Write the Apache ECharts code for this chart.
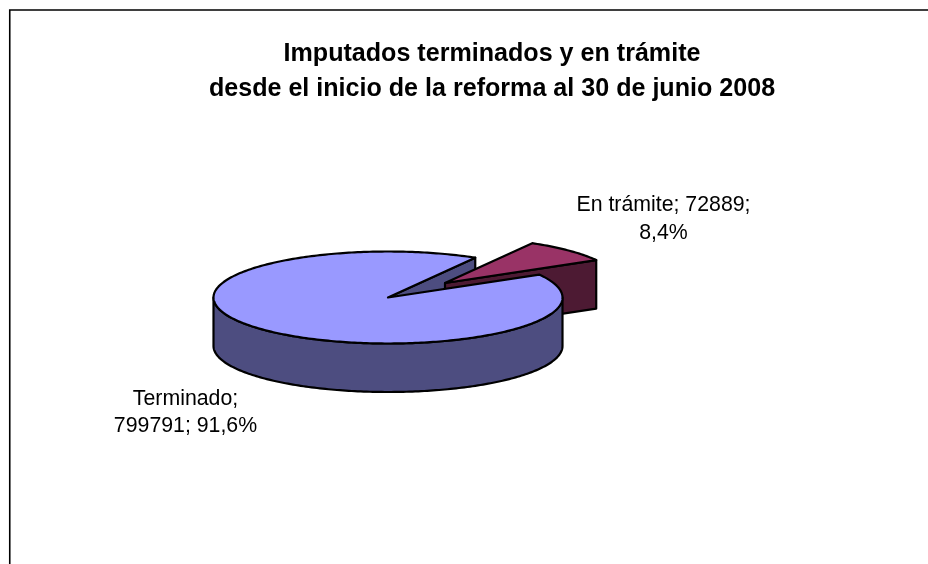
<!DOCTYPE html>
<html>
<head>
<meta charset="utf-8">
<style>html,body{margin:0;padding:0;background:#fff}#c{width:928px;height:564px}</style>
<script src="https://cdn.jsdelivr.net/npm/echarts@6/dist/echarts.min.js"></script>
</head>
<body>
<div id="c"></div>
<script>
const titleLines = ['Imputados terminados y en trámite', 'desde el inicio de la reforma al 30 de junio 2008'];
const categories = ['Terminado', 'En trámite'];
const values = [799791, 72889];
const percentLabels = ['91,6%', '8,4%'];

const FONT = '"Liberation Sans", Arial, sans-serif';
const CX = 388, CY = 297.5, RX = 174.5, RY = 46, DEPTH = 48.5;
const START = 60; // ellipse parameter where the first (exploded) slice begins
const EXPLODE = [57, -14.5];
const STROKE = {stroke: '#000', lineWidth: 2.2, lineJoin: 'round'};
const total = values.reduce((a, b) => a + b, 0);
const sweep = values[1] / total * 360;

function pt(cx, cy, deg, dy) {
  const r = deg * Math.PI / 180;
  return [cx + RX * Math.cos(r), cy - RY * Math.sin(r) + (dy || 0)];
}
function arc(cx, cy, from, to, dy) {
  const n = Math.ceil(Math.abs(to - from));
  const out = [];
  for (let i = 0; i <= n; i++) out.push(pt(cx, cy, from + (to - from) * i / n, dy));
  return out;
}
function poly(points, fill, z2) {
  return {type: 'polygon', z2, shape: {points}, style: Object.assign({fill}, STROKE)};
}
function text(x, y, str) {
  return {type: 'text', z2: 20, x, y, style: {text: str, font: '21.3px ' + FONT, fill: '#000',
    align: 'center', verticalAlign: 'middle', lineHeight: 27.5}};
}

function renderItem(params) {
  const i = params.dataIndex;
  const a1 = START - sweep;            // end of the exploded slice
  if (i === 1) {
    const cx = CX + EXPLODE[0], cy = CY + EXPLODE[1];
    const tip = pt(cx, cy, a1);
    return {type: 'group', children: [
      poly([[cx, cy], tip, [tip[0], tip[1] + DEPTH], [cx, cy + DEPTH]], '#4D1A33', 2),
      poly([[cx, cy]].concat(arc(cx, cy, START, a1)), '#993366', 3),
      text(663.5, 219, categories[i] + '; ' + values[i] + ';\n' + percentLabels[i])
    ]};
  }
  const tip = pt(CX, CY, START);
  return {type: 'group', children: [
    poly([[CX, CY], tip, [tip[0], tip[1] + DEPTH], [CX, CY + DEPTH]], '#4D4D80', 1),
    poly(arc(CX, CY, -180, 0).concat(arc(CX, CY, 0, -180, DEPTH)), '#4D4D80', 4),
    poly([[CX, CY]].concat(arc(CX, CY, a1, START - 360)), '#9999FF', 5),
    text(185.5, 412.5, categories[i] + ';\n' + values[i] + '; ' + percentLabels[i])
  ]};
}

const chart = echarts.init(document.getElementById('c'), null, {renderer: 'canvas'});
chart.setOption({
  animation: false,
  backgroundColor: '#fff',
  title: {
    text: titleLines.join('\n'), left: 487, top: 32, textAlign: 'center',
    textStyle: {fontFamily: FONT, fontWeight: 'bold', fontSize: 25.1, lineHeight: 35, color: '#000'}
  },
  graphic: [{type: 'polyline', silent: true, shape: {points: [[9.75, 564], [9.75, 10], [928, 10]]},
    style: {stroke: '#000', lineWidth: 1.6, fill: null}}],
  series: [{
    type: 'custom', coordinateSystem: 'none', silent: true, clip: false,
    renderItem,
    data: values.map((v, i) => ({name: categories[i], value: v}))
  }]
});
</script>
</body>
</html>
